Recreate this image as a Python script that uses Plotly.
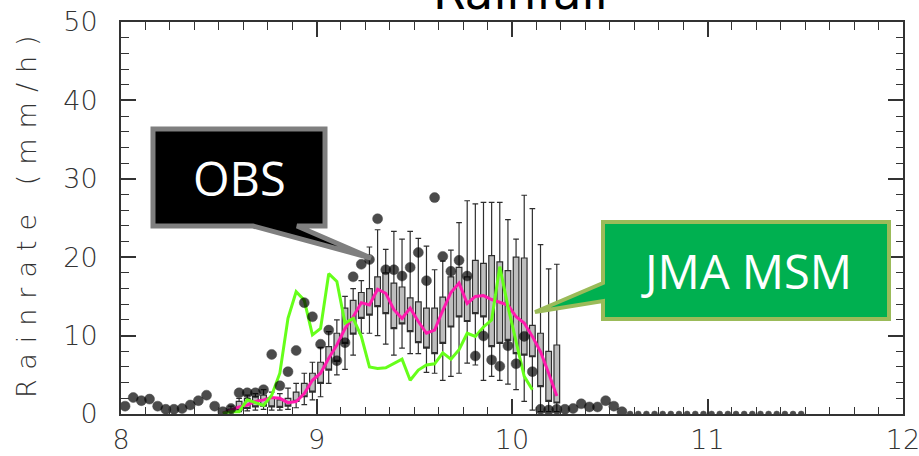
import plotly.graph_objects as go

# ---------------- data ----------------
# observation time grid: 2.5-minute steps starting 8:00 (centres at half steps)
step_h = 2.5 / 60.0
obs_rain = [1.0, 2.1, 1.7, 1.9, 1.0, 0.6, 0.6, 0.7, 1.15, 1.7,
            2.4, 1.0, 0.3, 0.7, 2.7, 2.7, 2.7, 3.1, 7.6, 3.6,
            5.4, 8.1, 14.2, 12.4, 8.9, 10.7, 6.8, 9.1, 17.5, 19.1,
            19.7, 24.9, 18.4, 18.4, 17.6, 18.7, 20.6, 17.0, 27.6, 20.1,
            18.2, 19.6, 17.6, 7.4, 9.95, 6.9, 6.1, 8.7, 6.4, 9.9,
            5.4, 0.6, 0.5, 0.6, 0.6, 0.7, 1.3, 0.9, 0.9, 1.7,
            1.0, 0.3, 0, 0, 0, 0, 0, 0, 0, 0,
            0, 0, 0, 0, 0, 0, 0, 0, 0, 0,
            0, 0, 0, 0]

# ensemble (box) statistics, from index 13 to 53
box_start = 13
box_low = [0.1, 0.3, 0.4, 0.5, 0.6, 0.5, 0.5, 0.6, 0.8, 1.2,
           1.8, 2.2, 3.9, 5.0, 5.7, 7.5, 10.3, 10.3, 10.0, 8.9,
           7.5, 8.4, 7.7, 7.7, 5.3, 5.2, 4.3, 4.8, 5.2, 6.5,
           6.25, 4.3, 4.8, 4.3, 3.8, 3.1, 1.6, 0.5, 0.3, 0.3, 0.3]
box_q1 = [0.2, 0.5, 0.7, 0.9, 1.0, 0.9, 0.85, 1.0, 1.6, 2.2,
          2.8, 3.9, 5.6, 6.7, 9.0, 10.2, 12.2, 12.6, 13.7, 12.8,
          10.9, 11.5, 10.5, 9.1, 8.4, 7.7, 9.0, 11.1, 12.4, 11.8,
          12.8, 12.4, 8.6, 9.0, 9.4, 7.7, 7.5, 7.3, 3.5, 1.6, 1.4]
box_q3 = [0.6, 1.6, 2.0, 2.2, 2.4, 2.0, 1.8, 2.0, 2.8, 3.9,
          5.2, 6.6, 8.6, 10.3, 13.5, 14.5, 15.5, 16.0, 17.5, 18.0,
          16.7, 16.2, 14.8, 14.3, 13.5, 13.5, 14.9, 17.5, 18.7, 17.5,
          19.6, 19.2, 20.2, 19.4, 18.3, 20.0, 19.9, 11.3, 10.3, 8.0, 8.8]
box_high = [1.0, 2.0, 2.4, 2.6, 3.1, 2.8, 2.6, 3.3, 3.9, 5.2,
            6.6, 8.5, 10.5, 12.0, 15.0, 16.0, 17.0, 21.3, 23.5, 21.0,
            23.3, 22.3, 23.3, 22.4, 21.4, 18.4, 19.5, 20.9, 24.4, 27.2,
            26.8, 27.0, 27.0, 27.0, 24.8, 22.3, 27.9, 26.2, 21.6, 18.5, 19.1]

# ensemble mean (pink), from index 12 to 53
mean_start = 12
ens_mean = [0.1, 0.5, 0.9, 1.15, 1.6, 1.8, 2.1, 2.0, 1.45, 1.6,
            2.6, 4.3, 5.2, 7.1, 8.8, 10.9, 12.4, 14.2, 13.9, 15.9,
            15.4, 13.3, 12.2, 13.5, 11.8, 10.3, 10.7, 13.2, 15.5, 16.7,
            14.1, 15.0, 15.1, 14.6, 14.2, 13.9, 12.4, 11.6, 9.9, 7.95,
            5.2, 2.3]

# JMA MSM (green), from index 12 to 50
msm_start = 12
msm_rain = [0.1, 0.3, 0.3, 1.8, 1.45, 1.1, 2.4, 5.2, 12.2, 15.6,
            14.5, 10.1, 10.9, 17.9, 16.9, 11.6, 12.2, 9.9, 6.0, 5.8,
            5.9, 6.5, 7.0, 4.3, 5.6, 6.25, 6.4, 7.8, 7.0, 8.2,
            10.3, 9.9, 11.1, 12.0, 18.8, 13.7, 9.4, 4.8, 3.1]

x_ticks = [8, 9, 10, 11, 12]
y_ticks = [0, 10, 20, 30, 40, 50]


def times(start, n):
    return [8 + (start + i + 0.5) * step_h for i in range(n)]


# ---------------- layout helpers ----------------
W, H = 919, 456
L, R, T, B = 121, 16, 22, 42
PW, PH = W - L - R, H - T - B


def px(xp):
    return (xp - L) / PW


def py(yp):
    return (H - B - yp) / PH


fig = go.Figure()

# boxes
fig.add_trace(go.Box(
    x=times(box_start, len(box_q1)),
    q1=box_q1, median=box_q1, q3=box_q3,
    lowerfence=box_low, upperfence=box_high,
    width=0.029, whiskerwidth=1,
    fillcolor="#bdbdbd", line=dict(color="#2e2e2e", width=1.2),
    boxpoints=False, showlegend=False, hoverinfo="skip"))

# ensemble mean
fig.add_trace(go.Scatter(
    x=times(mean_start, len(ens_mean)), y=ens_mean, mode="lines",
    line=dict(color="#ff1aad", width=3), showlegend=False))

# JMA MSM
fig.add_trace(go.Scatter(
    x=times(msm_start, len(msm_rain)), y=msm_rain, mode="lines",
    line=dict(color="#66ff1a", width=3), showlegend=False))

# observations
fig.add_trace(go.Scatter(
    x=times(0, len(obs_rain)), y=obs_rain, mode="markers",
    marker=dict(color="black", size=[10 if v > 0 else 6 for v in obs_rain],
                line=dict(color="black", width=0.5)),
    cliponaxis=True, showlegend=False))

tick_font = dict(family="DejaVu Sans", size=27, color="#333", weight=200)
axis_common = dict(
    showgrid=False, zeroline=False, showline=True, linecolor="#333",
    linewidth=2, mirror="ticks", ticks="inside", tickcolor="#333",
    tickwidth=1.6, ticklen=15, tickfont=tick_font, automargin=False,
    ticklabeloverflow="allow",
)

fig.update_xaxes(range=[8, 12], tickvals=x_ticks, ticktext=[str(v) for v in x_ticks],
                 minor=dict(dtick=0.125, ticks="inside", ticklen=7.5, tickcolor="#333", tickwidth=1.4),
                 ticklabelstandoff=1, **axis_common)
fig.update_yaxes(range=[0, 50], tickvals=y_ticks, ticktext=[str(v) for v in y_ticks],
                 minor=dict(dtick=2, ticks="inside", ticklen=7.5, tickcolor="#333", tickwidth=1.4),
                 ticklabelstandoff=16, **axis_common)

# callouts
obs_path = "M {a},{b} L {c},{b} L {c},{d} L {e},{d} L {tx},{ty} L {f},{d} L {a},{d} Z".format(
    a=px(153), b=py(129), c=px(325), d=py(226), e=px(297), f=px(253), tx=px(371), ty=py(258))
msm_path = "M {a},{b} L {c},{b} L {c},{d} L {a},{d} L {a},{e} L {tx},{ty} L {a},{f} Z".format(
    a=px(603), b=py(222), c=px(889), d=py(319), e=py(301), f=py(283), tx=px(535), ty=py(312))

fig.update_layout(
    width=W, height=H, margin=dict(l=L, r=R, t=T, b=B, pad=0, autoexpand=False),
    paper_bgcolor="white", plot_bgcolor="white",
    shapes=[
        dict(type="path", xref="paper", yref="paper", path=obs_path,
             fillcolor="black", line=dict(color="#7f7f7f", width=5)),
        dict(type="path", xref="paper", yref="paper", path=msm_path,
             fillcolor="#00b050", line=dict(color="#9bbb59", width=4)),
    ],
    annotations=[
        dict(text="OBS", xref="paper", yref="paper", x=px(239), y=py(178),
             xanchor="center", yanchor="middle", showarrow=False,
             font=dict(family="Open Sans", size=47, color="white")),
        dict(text="JMA MSM", xref="paper", yref="paper", x=px(746), y=py(271),
             xanchor="center", yanchor="middle", showarrow=False,
             font=dict(family="Open Sans", size=47, color="white")),
        dict(text="Rainfall", xref="paper", yref="paper", x=px(520), y=py(22),
             xanchor="center", yanchor="bottom", showarrow=False,
             font=dict(family="DejaVu Sans", size=47, color="black")),
        dict(text="Rainrate (mm/h)", xref="paper", yref="paper", x=px(26), y=py(212),
             xanchor="center", yanchor="middle", textangle=-90, showarrow=False,
             font=dict(family="DejaVu Sans", size=27, color="#333", weight=200)),
    ],
)

# the original axis title is drawn with wide letter spacing
post = """
var gd = document.getElementById('{plot_id}');
gd.querySelectorAll('.annotation-text').forEach(function(t){
  if (t.textContent.indexOf('Rainrate') === 0) { t.style.letterSpacing = '10px'; }
});
"""

fig.write_html("out.html", post_script=post)
